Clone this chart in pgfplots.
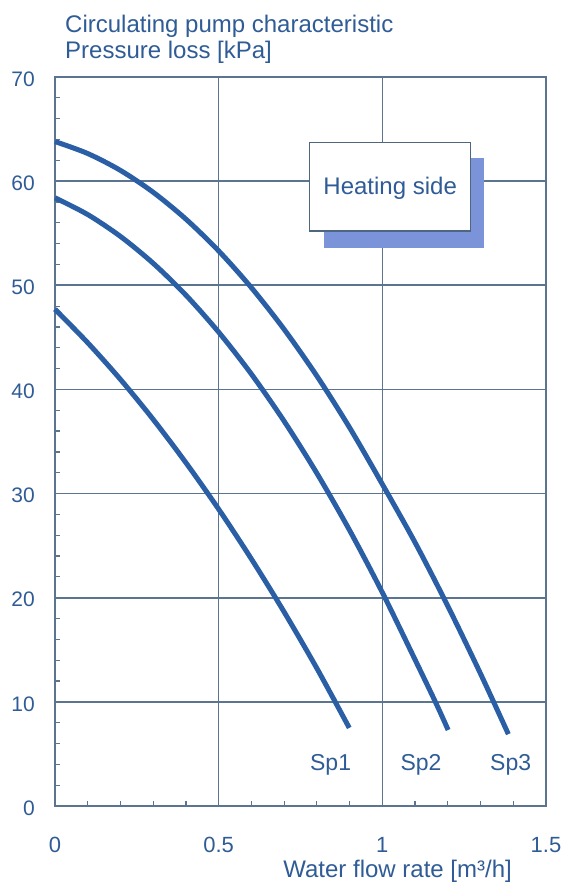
\documentclass[border=0pt]{standalone}
\usepackage{pgfplots}
\pgfplotsset{compat=1.18}
\usepackage{fontspec}
\setmainfont{Liberation Sans}
\definecolor{curve}{HTML}{2A5FA5}
\definecolor{txt}{HTML}{2F5C96}
\definecolor{gridc}{HTML}{5B7590}
\definecolor{shadowc}{HTML}{7B93D8}
\definecolor{boxc}{HTML}{4F6680}
\begin{document}
\begin{tikzpicture}
\useasboundingbox (-55bp,-81bp) rectangle (515bp,806bp);
\begin{axis}[
  at={(0,0)}, anchor=south west,
  scale only axis, width=491bp, height=729bp,
  xmin=0, xmax=1.5, ymin=0, ymax=70,
  xtick={0,0.5,1,1.5}, ytick={0,10,...,70},
  minor x tick num=4, minor y tick num=4,
  grid=major,
  major grid style={gridc, line width=1.6bp},
  axis line style={gridc, line width=1.6bp},
  tick style={gridc, line width=1.2bp},
  major tick length=0pt, minor tick length=5bp,
  tick align=inside, tick pos=left,
  /pgf/number format/assume math mode=true,
  /pgf/number format/fixed,
  yticklabel style={font=\fontsize{21bp}{24bp}\selectfont, text=txt, anchor=east, inner sep=0pt, xshift=-20bp, yshift=-2bp},
  xticklabel style={font=\fontsize{22bp}{25bp}\selectfont, text=txt, anchor=north, inner sep=0pt, yshift=-31bp},
  clip=false,
]
\addplot[curve, line width=5bp, smooth] coordinates {
 (0,63.8) (0.1,62.65) (0.2,61.03) (0.3,58.93) (0.4,56.35) (0.5,53.3) (0.6,49.77) (0.7,45.77) (0.8,41.29) (0.9,36.33) (1.0,30.9) (1.1,25.3) (1.2,19.2) (1.3,12.7) (1.385,6.9)};
\addplot[curve, line width=5bp, smooth] coordinates {
 (0,58.4) (0.1,56.79) (0.2,54.69) (0.3,52.11) (0.4,49.05) (0.5,45.5) (0.6,41.47) (0.7,36.95) (0.8,31.95) (0.9,26.47) (1.0,20.5) (1.1,14.05) (1.165,9.8) (1.201,7.3)};
\addplot[curve, line width=5bp, smooth] coordinates {
 (0,47.7) (0.1,44.48) (0.2,40.96) (0.3,37.12) (0.4,32.96) (0.5,28.5) (0.6,23.72) (0.7,18.63) (0.8,13.22) (0.899,7.5)};
\fill[shadowc] (axis cs:0.821,53.6) rectangle (axis cs:1.312,62.2);
\draw[boxc, line width=1.3bp, fill=white] (axis cs:0.778,55.2) rectangle (axis cs:1.270,63.7);
\node[text=txt, font=\fontsize{24bp}{28bp}\selectfont] at (axis cs:1.024,59.35) {Heating side};
\node[text=txt, font=\fontsize{23bp}{26bp}\selectfont, anchor=base, inner sep=0pt] at (axis cs:0.842,3.37) {Sp1};
\node[text=txt, font=\fontsize{23bp}{26bp}\selectfont, anchor=base, inner sep=0pt] at (axis cs:1.118,3.37) {Sp2};
\node[text=txt, font=\fontsize{23bp}{26bp}\selectfont, anchor=base, inner sep=0pt] at (axis cs:1.392,3.37) {Sp3};
\end{axis}
\node[text=txt, font=\fontsize{24bp}{28bp}\selectfont, anchor=base west, inner sep=0pt] at (10bp,773bp) {Circulating pump characteristic};
\node[text=txt, font=\fontsize{24bp}{28bp}\selectfont, anchor=base west, inner sep=0pt] at (10bp,747bp) {Pressure loss [kPa]};
\node[text=txt, font=\fontsize{24bp}{28bp}\selectfont, anchor=base east, inner sep=0pt] at (457bp,-71bp) {Water flow rate [m³/h]};
\end{tikzpicture}
\end{document}
